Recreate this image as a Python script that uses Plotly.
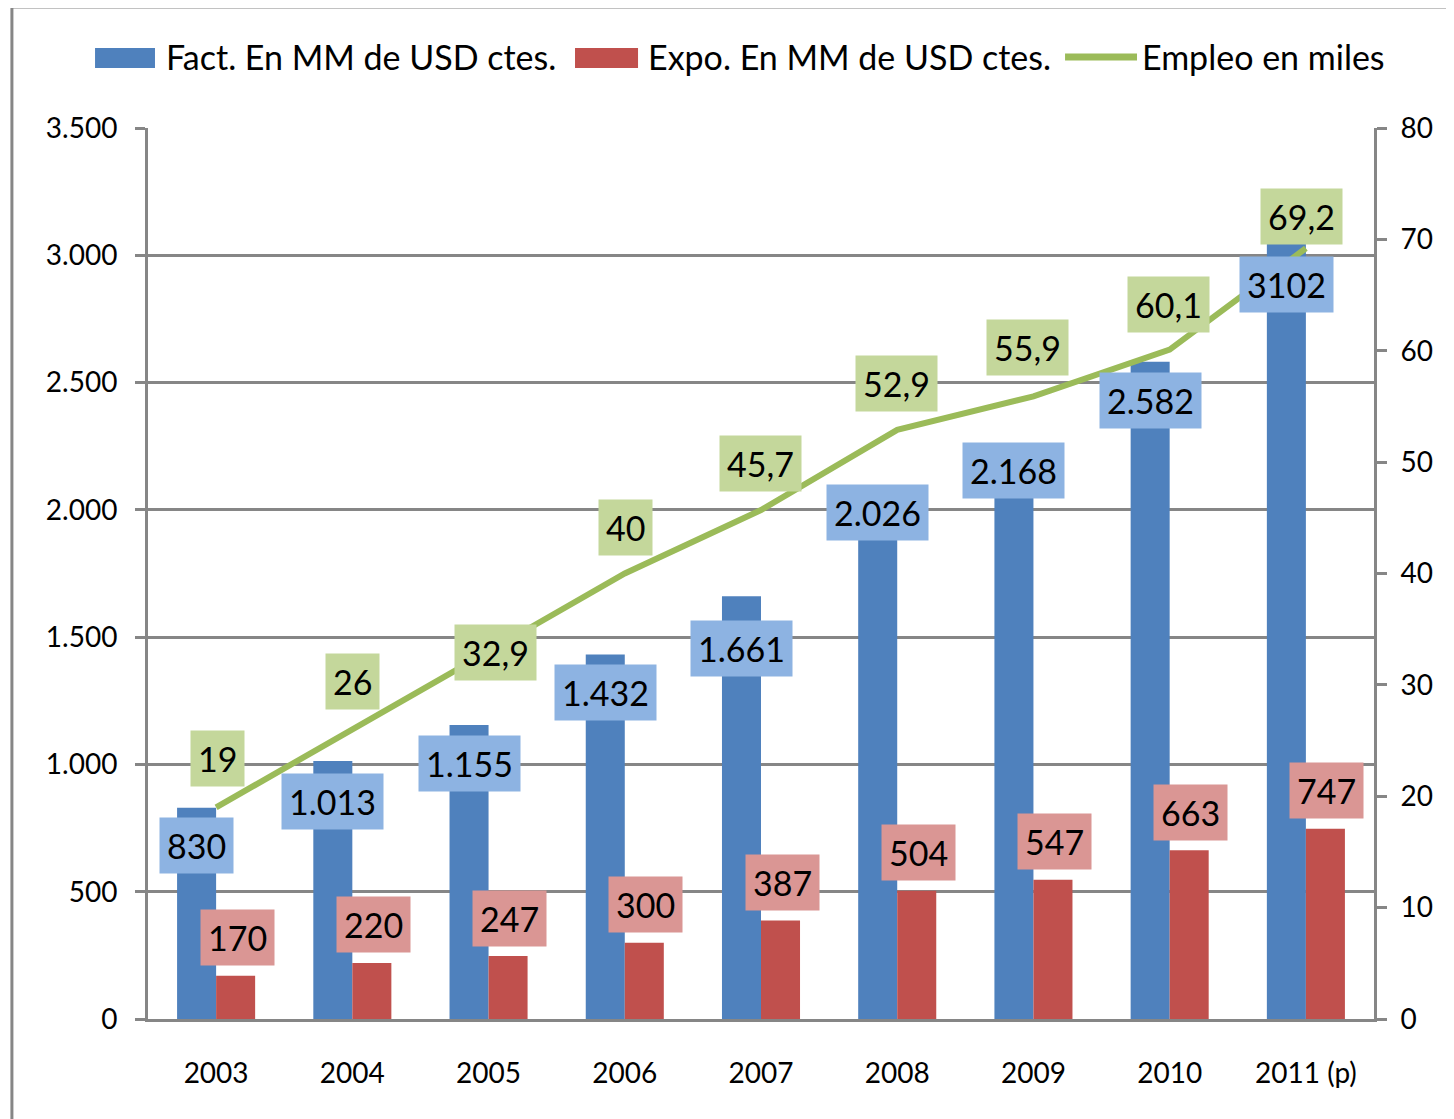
import plotly.graph_objects as go

years = ["2003", "2004", "2005", "2006", "2007", "2008", "2009", "2010", "2011 (p)"]
fact = [830, 1013, 1155, 1432, 1661, 2026, 2168, 2582, 3102]
expo = [170, 220, 247, 300, 387, 504, 547, 663, 747]
empleo = [19, 26, 32.9, 40, 45.7, 52.9, 55.9, 60.1, 69.2]

fact_labels = ["830", "1.013", "1.155", "1.432", "1.661", "2.026", "2.168", "2.582", "3102"]
expo_labels = ["170", "220", "247", "300", "387", "504", "547", "663", "747"]
empleo_labels = ["19", "26", "32,9", "40", "45,7", "52,9", "55,9", "60,1", "69,2"]
series_names = ["Fact. En MM de USD ctes.", "Expo. En MM de USD ctes.", "Empleo en miles"]

left_ticks = [0, 500, 1000, 1500, 2000, 2500, 3000, 3500]
left_tick_text = ["0", "500", "1.000", "1.500", "2.000", "2.500", "3.000", "3.500"]

# label pixel offsets (style)
fact_yshift = [-38, -40, -39, -38, -52, -9, -3, -39, -55]
empleo_yshift = [49, 48, 0, 46, 47, 46, 49, 45, 32]
empleo_xshift = [1, 0, 7, 1, -1, -1, -6, -1, -4]

BLUE = "#4F81BD"
RED = "#C0504D"
GREEN = "#9BBB59"
GRID = "#868686"
FONT = "Lato"
LBL = 34

fig = go.Figure()
fig.add_trace(go.Bar(x=years, y=fact, name=series_names[0], marker_color=BLUE,
                     marker_line_width=0))
fig.add_trace(go.Bar(x=years, y=expo, name=series_names[1], marker_color=RED,
                     marker_line_width=0))
fig.add_trace(go.Scatter(x=years, y=empleo, name=series_names[2], mode="lines",
                         line=dict(color=GREEN, width=6), yaxis="y2"))

annots = []
for i in range(len(years)):
    # category axis: annotation x given as the category index
    annots.append(dict(x=i, y=fact[i], xref="x", yref="y", text=fact_labels[i],
                       showarrow=False, xshift=-19.5, yshift=fact_yshift[i],
                       bgcolor="#8DB3E2", borderpad=7,
                       font=dict(family=FONT, size=LBL, color="black")))
    annots.append(dict(x=i, y=expo[i], xref="x", yref="y", text=expo_labels[i],
                       showarrow=False, xshift=21, yshift=38,
                       bgcolor="#DA9694", borderpad=7,
                       font=dict(family=FONT, size=LBL, color="black")))
    annots.append(dict(x=i, y=empleo[i], xref="x", yref="y2", text=empleo_labels[i],
                       showarrow=False, xshift=empleo_xshift[i], yshift=empleo_yshift[i],
                       bgcolor="#C4D79B", borderpad=7,
                       font=dict(family=FONT, size=LBL, color="black")))

# manual legend (paper coordinates)
LEG_Y = 1.0797
legend_text_x = [0.01305, 0.4062, 0.8091]
for name, lx in zip(series_names, legend_text_x):
    annots.append(dict(x=lx, y=LEG_Y, xref="paper", yref="paper", text=name,
                       showarrow=False, xanchor="left", yanchor="middle",
                       font=dict(family=FONT, size=34, color="black")))

shapes = [
    dict(type="rect", xref="paper", yref="paper", x0=-0.111, x1=1.2, y0=-0.3, y1=1.1358,
         line=dict(color=GRID, width=3), fillcolor="rgba(0,0,0,0)", layer="below"),
    dict(type="rect", xref="paper", yref="paper", x0=-0.0432, x1=0.0057, y0=1.0673, y1=1.0898,
         line=dict(width=0), fillcolor=BLUE),
    dict(type="rect", xref="paper", yref="paper", x0=0.3483, x1=0.3997, y0=1.0673, y1=1.0898,
         line=dict(width=0), fillcolor=RED),
    dict(type="line", xref="paper", yref="paper", x0=0.748, x1=0.8067, y0=LEG_Y, y1=LEG_Y,
         line=dict(color=GREEN, width=7)),
]

fig.update_layout(
    width=1446, height=1111,
    margin=dict(l=140, r=80, t=120, b=100),
    paper_bgcolor="white", plot_bgcolor="white",
    font=dict(family=FONT, size=28, color="black"),
    barmode="group", bargap=0.427, bargroupgap=0,
    showlegend=False,
    xaxis=dict(type="category", categoryorder="array", categoryarray=years,
               range=[-0.5, len(years) - 0.5], autorange=False,
               showgrid=False, showline=True, linecolor=GRID, linewidth=3,
               ticks="", tickfont=dict(size=28), ticklabelstandoff=27),
    yaxis=dict(range=[0, 3500], tickvals=left_ticks, ticktext=left_tick_text,
               showgrid=True, gridcolor=GRID, gridwidth=3, zeroline=False,
               showline=True, linecolor=GRID, linewidth=3, mirror=False,
               ticks="outside", ticklen=10, tickwidth=3, tickcolor=GRID,
               tickfont=dict(size=28), ticklabelstandoff=12),
    yaxis2=dict(range=[0, 80], dtick=10, overlaying="y", side="right",
                showgrid=False, zeroline=False, showline=True, linecolor=GRID, linewidth=3,
                ticks="outside", ticklen=10, tickwidth=3, tickcolor=GRID,
                tickfont=dict(size=28), ticklabelstandoff=8),
    annotations=annots,
    shapes=shapes,
)

fig.write_html("out.html")
